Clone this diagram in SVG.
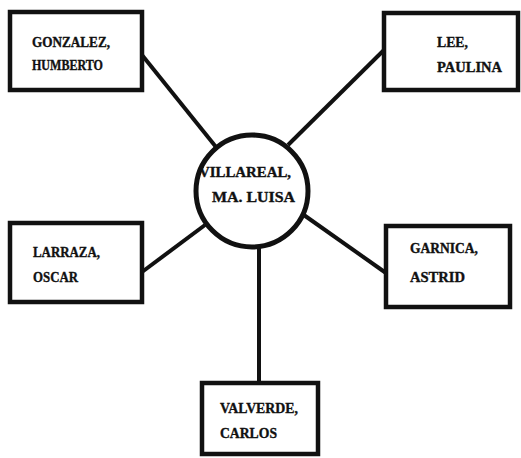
<svg xmlns="http://www.w3.org/2000/svg" width="521" height="458" viewBox="0 0 521 458">
  <style>
    .box { fill: #ffffff; stroke: #111111; stroke-width: 4.5; }
    .hub { fill: #ffffff; stroke: #111111; stroke-width: 5; }
    .link { stroke: #111111; stroke-width: 4; fill: none; stroke-linecap: butt; }
    .label { font-family: "Liberation Serif", "DejaVu Serif", serif; font-weight: bold; font-size: 14px; fill: #111111; stroke: #111111; stroke-width: 0.35; }
  </style>
  <rect width="521" height="458" fill="#ffffff"/>

  <!-- spokes from the central person to each contact -->
  <g id="connectors">
    <line class="link" x1="142" y1="55" x2="216" y2="147"/>
    <line class="link" x1="384" y1="50" x2="288" y2="145"/>
    <line class="link" x1="142" y1="272" x2="205" y2="225"/>
    <line class="link" x1="386" y1="273" x2="301" y2="213"/>
    <line class="link" x1="259" y1="245" x2="259" y2="383"/>
  </g>

  <g id="node-villareal">
    <circle class="hub" cx="252" cy="191" r="56"/>
    <text class="label" x="199" y="177" textLength="92" lengthAdjust="spacingAndGlyphs">VILLAREAL,</text>
    <text class="label" x="212" y="202" textLength="83" lengthAdjust="spacingAndGlyphs">MA.  LUISA</text>
  </g>

  <g id="node-gonzalez">
    <rect class="box" x="10" y="12" width="132" height="78"/>
    <text class="label" x="32" y="47" textLength="78" lengthAdjust="spacingAndGlyphs">GONZALEZ,</text>
    <text class="label" x="32" y="70" textLength="71" lengthAdjust="spacingAndGlyphs">HUMBERTO</text>
  </g>

  <g id="node-lee">
    <rect class="box" x="384" y="13" width="134" height="77"/>
    <text class="label" x="437" y="47" textLength="31" lengthAdjust="spacingAndGlyphs">LEE,</text>
    <text class="label" x="437" y="72" textLength="65" lengthAdjust="spacingAndGlyphs">PAULINA</text>
  </g>

  <g id="node-larraza">
    <rect class="box" x="10" y="223" width="132" height="79"/>
    <text class="label" x="33" y="257" textLength="67" lengthAdjust="spacingAndGlyphs">LARRAZA,</text>
    <text class="label" x="33" y="282" textLength="45" lengthAdjust="spacingAndGlyphs">OSCAR</text>
  </g>

  <g id="node-garnica">
    <rect class="box" x="386" y="226" width="124" height="81"/>
    <text class="label" x="410" y="253" textLength="68" lengthAdjust="spacingAndGlyphs">GARNICA,</text>
    <text class="label" x="410" y="282" textLength="55" lengthAdjust="spacingAndGlyphs">ASTRID</text>
  </g>

  <g id="node-valverde">
    <rect class="box" x="202" y="383" width="116" height="71"/>
    <text class="label" x="220" y="413" textLength="78" lengthAdjust="spacingAndGlyphs">VALVERDE,</text>
    <text class="label" x="220" y="438" textLength="57" lengthAdjust="spacingAndGlyphs">CARLOS</text>
  </g>
</svg>
